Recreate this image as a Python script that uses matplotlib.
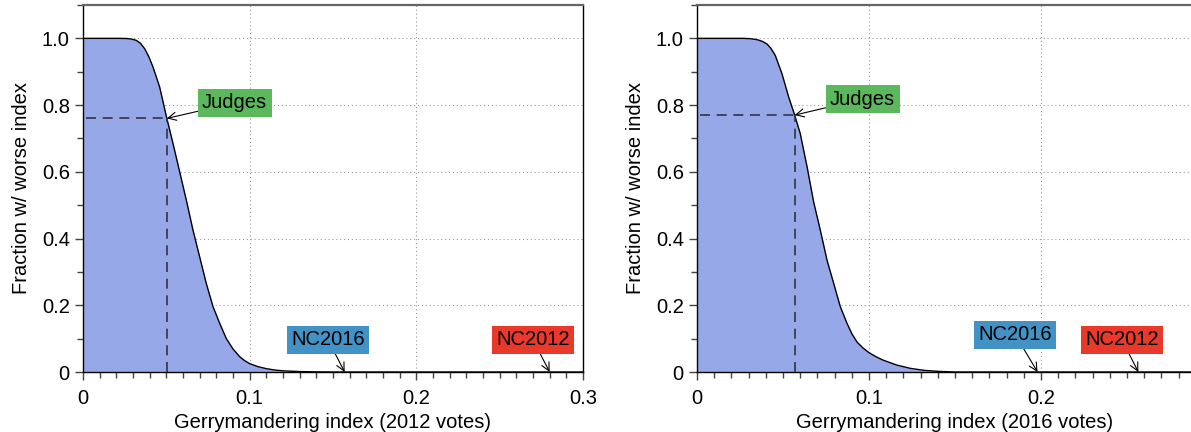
import matplotlib
matplotlib.use("Agg")
import matplotlib.pyplot as plt
from matplotlib.ticker import MultipleLocator, FixedLocator, FixedFormatter

plt.rcParams['font.family'] = ['Liberation Sans', 'DejaVu Sans']

# survival curve, 2012 votes (left panel)
x_2012 = [0, 0.022, 0.026, 0.029, 0.032, 0.0345, 0.037, 0.0395, 0.042, 0.046, 0.0503,
          0.054, 0.058, 0.062, 0.066, 0.07, 0.074, 0.078, 0.082, 0.086, 0.09, 0.094,
          0.097, 0.1, 0.105, 0.11, 0.115, 0.12, 0.13, 0.14, 0.15, 0.3]
y_2012 = [1, 1, 0.9995, 0.998, 0.994, 0.985, 0.969, 0.945, 0.914, 0.854, 0.76,
          0.685, 0.6, 0.515, 0.425, 0.345, 0.265, 0.196, 0.146, 0.10, 0.069, 0.046,
          0.034, 0.025, 0.016, 0.010, 0.006, 0.0035, 0.0013, 0.0004, 0, 0]

# survival curve, 2016 votes (right panel)
x_2016 = [0, 0.027, 0.031, 0.035, 0.038, 0.0407, 0.043, 0.0455, 0.0494, 0.0533, 0.0568,
          0.06, 0.064, 0.0678, 0.0717, 0.0756, 0.0795, 0.0833, 0.0872, 0.09, 0.093,
          0.0965, 0.1, 0.104, 0.108, 0.116, 0.124, 0.132, 0.14, 0.15, 0.3]
y_2016 = [1, 1, 0.999, 0.996, 0.991, 0.983, 0.97, 0.949, 0.894, 0.824, 0.77,
          0.715, 0.615, 0.51, 0.425, 0.335, 0.265, 0.196, 0.146, 0.115, 0.09,
          0.072, 0.058, 0.046, 0.036, 0.021, 0.011, 0.005, 0.002, 0, 0]

# marked plans
judges_2012 = (0.0503, 0.76)
judges_2016 = (0.0568, 0.77)
nc2016_2012 = 0.157
nc2012_2012 = 0.28
nc2016_2016 = 0.198
nc2012_2016 = 0.2566

xticks_left = [0, 0.1, 0.2, 0.3]
xticklabels_left = ['0', '0.1', '0.2', '0.3']
xticks_right = [0, 0.1, 0.2]
xticklabels_right = ['0', '0.1', '0.2']
yticks = [0, 0.2, 0.4, 0.6, 0.8, 1.0]
yticklabels = ['0', '0.2', '0.4', '0.6', '0.8', '1.0']

FILL = '#97a8e8'
GREEN = '#5cb85c'
BLUE = '#4292c6'
RED = '#e8392a'
FS = 14.5

fig = plt.figure(figsize=(11.91, 4.32), dpi=100)
ax1 = fig.add_axes([83/1191, 1 - 372/432, 500/1191, 367/432])
ax2 = fig.add_axes([697/1191, 1 - 372/432, 516/1191, 367/432])


def label_box(ax, text, color, xy, xytext):
    ax.annotate(text, xy=xy, xytext=xytext, fontsize=FS, ha='center', va='center',
                bbox=dict(boxstyle='square,pad=0.22', fc=color, ec='none'),
                arrowprops=dict(arrowstyle='->', color='black', lw=0.8,
                                shrinkA=0, shrinkB=0),
                zorder=5)


def panel(ax, x, y, judges, nc16, nc12, xlabel, xticks, xticklabels, pos):
    ax.set_axisbelow(True)
    ax.grid(True, which='major', linestyle=(0, (1, 2.5)), color='#999999', lw=0.8)
    ax.fill_between(x, y, 0, color=FILL, lw=0, zorder=2)
    ax.plot(x, y, color='black', lw=1.0, zorder=3)
    jx, jy = judges
    ax.plot([0.002, jx], [jy, jy], color='#333344', lw=1.2, dashes=(6, 4), zorder=4)
    ax.plot([jx, jx], [0, jy], color='#333344', lw=1.2, dashes=(6, 4), zorder=4)
    label_box(ax, 'Judges', GREEN, (jx, jy), pos['judges'])
    label_box(ax, 'NC2016', BLUE, (nc16, 0), pos['nc16'])
    label_box(ax, 'NC2012', RED, (nc12, 0), pos['nc12'])

    ax.set_xlim(0, 0.3)
    ax.set_ylim(0, 1.1)
    ax.xaxis.set_major_locator(FixedLocator(xticks))
    ax.xaxis.set_major_formatter(FixedFormatter(xticklabels))
    ax.yaxis.set_major_locator(FixedLocator(yticks))
    ax.yaxis.set_major_formatter(FixedFormatter(yticklabels))
    ax.xaxis.set_minor_locator(MultipleLocator(0.01))
    ax.yaxis.set_minor_locator(MultipleLocator(0.1))
    ax.tick_params(which='both', direction='out', labelsize=FS, width=1, color='#444444')
    ax.tick_params(which='major', length=6)
    ax.tick_params(which='minor', length=4)
    ax.tick_params(axis='x', pad=6)
    ax.set_xlabel(xlabel, fontsize=FS, labelpad=4)
    ax.set_ylabel('Fraction w/ worse index', fontsize=FS, labelpad=8)
    for s in ['left', 'bottom', 'right']:
        ax.spines[s].set_color('black')
        ax.spines[s].set_linewidth(1.0)
    ax.spines['top'].set_color('#666666')
    ax.spines['top'].set_linewidth(1.6)


panel(ax1, x_2012, y_2012, judges_2012, nc2016_2012, nc2012_2012,
      'Gerrymandering index (2012 votes)', xticks_left, xticklabels_left,
      {'judges': (0.091, 0.807), 'nc16': (0.147, 0.096), 'nc12': (0.27, 0.096)})
panel(ax2, x_2016, y_2016, judges_2016, nc2016_2016, nc2012_2016,
      'Gerrymandering index (2016 votes)', xticks_right, xticklabels_right,
      {'judges': (0.0963, 0.818), 'nc16': (0.185, 0.112), 'nc12': (0.247, 0.097)})

fig.savefig('out.png', dpi=100)
